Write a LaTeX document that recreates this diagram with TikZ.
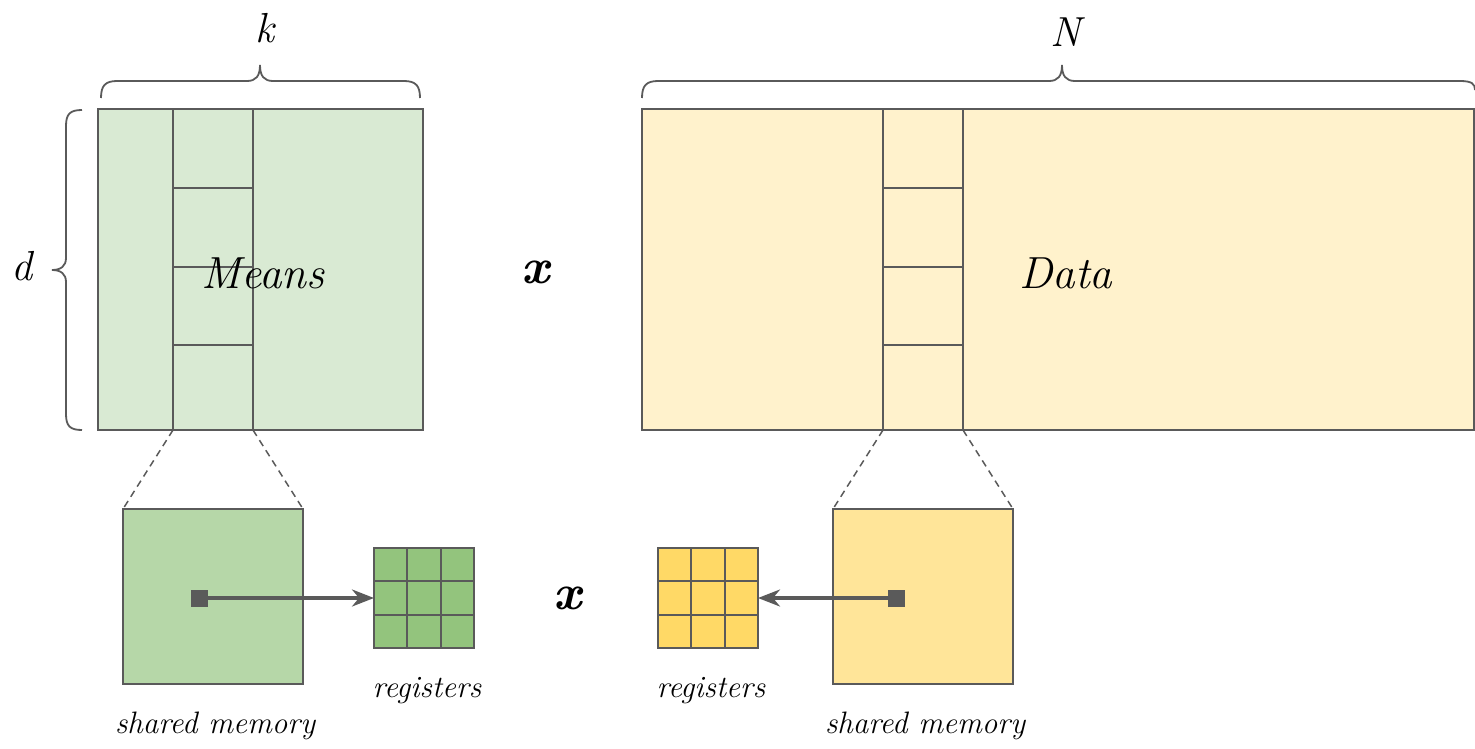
\documentclass[tikz,border=0pt]{standalone}
\usetikzlibrary{arrows.meta}
\definecolor{edge}{HTML}{5A5A5A}
\definecolor{meansfill}{HTML}{D9EAD3}
\definecolor{datafill}{HTML}{FFF2CC}
\definecolor{smemgreen}{HTML}{B6D7A8}
\definecolor{smemyellow}{HTML}{FFE599}
\definecolor{reggreen}{HTML}{93C47D}
\definecolor{regyellow}{HTML}{FFD966}
\tikzset{
  box/.style={draw=edge, line width=2pt, inner sep=0pt, outer sep=0pt},
  brace/.style={draw=edge, line width=1.8pt},
  zoomline/.style={draw=edge, line width=1.5pt, dash pattern=on 7pt off 5pt},
  label/.style={font=\itshape, text=black, inner sep=0pt},
  cell/.style={box, minimum width=33.3pt, minimum height=33.3pt},
  dot/.style={fill=edge, inner sep=0pt, minimum size=17pt},
  load/.style={draw=edge, line width=3.2pt, -{Stealth[length=22pt,width=17pt,inset=7pt]}},
}
\begin{document}
\begin{tikzpicture}[x=1pt,y=-1pt]
\useasboundingbox (0,0) rectangle (1475,749);

% ---- matrices ----
\node[box, fill=meansfill, minimum width=325pt, minimum height=321pt] (means) at (260.5,269.5) {};
\node[box, minimum width=80pt, minimum height=321pt] (meanscol) at (213,269.5) {};
\foreach \y in {188,267,345} \draw[edge, line width=2pt] (173,\y) -- (253,\y);

\node[box, fill=datafill, minimum width=832pt, minimum height=321pt] (data) at (1058,269.5) {};
\node[box, minimum width=80pt, minimum height=321pt] (datacol) at (923,269.5) {};
\foreach \y in {188,267,345} \draw[edge, line width=2pt] (883,\y) -- (963,\y);

\node[label, font=\itshape\fontsize{45}{50}\selectfont] (meanstxt) at (263,273) {Means};
\node[label, font=\itshape\fontsize{45}{50}\selectfont] (datatxt) at (1066,273) {Data};
\node[label, font=\bfseries\itshape\fontsize{50}{54}\selectfont] (times1) at (536,272) {x};

% ---- braces ----
\draw[brace] (101,98) .. controls (101,86) and (105,81) .. (117,81) -- (247,81)
  .. controls (256,81) and (260,76) .. (260,65) .. controls (260,76) and (264,81) .. (273,81)
  -- (404,81) .. controls (416,81) and (420,86) .. (420,98);
\node[label, font=\itshape\fontsize{42}{46}\selectfont] (ktxt) at (265,28) {k};

\draw[brace] (642,98) .. controls (642,86) and (646,81) .. (658,81) -- (1049,81)
  .. controls (1058,81) and (1062,76) .. (1062,65) .. controls (1062,76) and (1066,81) .. (1075,81)
  -- (1460,81) .. controls (1472,81) and (1475,84) .. (1475,90);
\node[label, font=\itshape\fontsize{42}{46}\selectfont] (ntxt) at (1066,32) {N};

\draw[brace] (82,110) .. controls (70,110) and (66,114) .. (66,126) -- (66,258)
  .. controls (66,266) and (61,270) .. (52,270) .. controls (61,270) and (66,274) .. (66,282)
  -- (66,414) .. controls (66,426) and (70,430) .. (82,430);
\node[label, font=\itshape\fontsize{42}{46}\selectfont] (dtxt) at (22,266) {d};

% ---- shared memory tiles ----
\node[box, fill=smemgreen, minimum width=180pt, minimum height=175pt] (smemA) at (213,596.5) {};
\node[box, fill=smemyellow, minimum width=180pt, minimum height=175pt] (smemB) at (923,596.5) {};

\draw[zoomline] (meanscol.south west) -- (smemA.north west);
\draw[zoomline] (meanscol.south east) -- (smemA.north east);
\draw[zoomline] (datacol.south west) -- (smemB.north west);
\draw[zoomline] (datacol.south east) -- (smemB.north east);

% ---- register tiles ----
\foreach \i in {0,1,2} \foreach \j in {0,1,2} {
  \node[cell, fill=reggreen] (ra\i\j) at (390.7+33.3*\i, 564.7+33.3*\j) {};
  \node[cell, fill=regyellow] (rb\i\j) at (674.7+33.3*\i, 564.7+33.3*\j) {};
}
\node[box, minimum width=100pt, minimum height=100pt] (regA) at (424,598) {};
\node[box, minimum width=100pt, minimum height=100pt] (regB) at (708,598) {};

% ---- loads from shared memory into registers ----
\node[dot] (srcA) at (199,598) {};
\node[dot] (srcB) at (896,598) {};
\draw[load] (srcA.center) -- (regA.west);
\draw[load] (srcB.center) -- (regB.east);

\node[label, font=\bfseries\itshape\fontsize{50}{54}\selectfont] (times2) at (568,598) {x};

% ---- captions ----
\node[label, font=\itshape\fontsize{31}{35}\selectfont] (capregA) at (427,691) {registers};
\node[label, font=\itshape\fontsize{31}{35}\selectfont] (capregB) at (711,691) {registers};
\node[label, font=\itshape\fontsize{31}{35}\selectfont] (capsmemA) at (215,726) {shared memory};
\node[label, font=\itshape\fontsize{31}{35}\selectfont] (capsmemB) at (925,726) {shared memory};
\end{tikzpicture}
\end{document}
